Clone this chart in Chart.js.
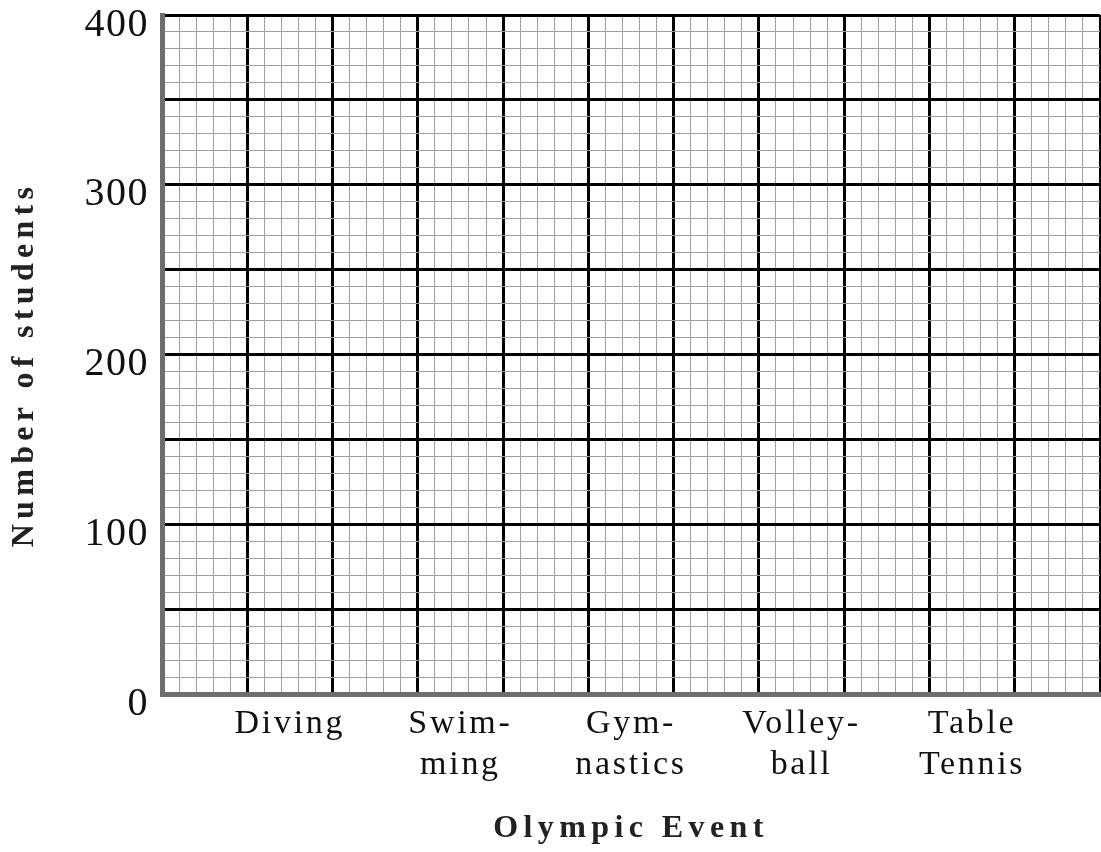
<!DOCTYPE html>
<html>
<head>
<meta charset="utf-8">
<title>Olympic Event</title>
<script src="https://cdn.jsdelivr.net/npm/chart.js@4.4.1/dist/chart.umd.min.js"></script>
<style>
  html, body { margin: 0; padding: 0; background: #fff; }
  #wrap { width: 1101px; height: 852px; }
</style>
</head>
<body>
<div id="wrap"><canvas id="grid" width="1101" height="852"></canvas></div>
<script>
// event names, split where the printed label wraps
const categories = [['Diving'], ['Swim-', 'ming'], ['Gym-', 'nastics'], ['Volley-', 'ball'], ['Table', 'Tennis']];
const yTickLabels = [0, 100, 200, 300, 400];
// blank sheet: no counts filled in yet
const studentCounts = [];

const serif = 'Liberation Serif';

// x runs in small squares: 11 big squares of 5 each, labels sit in every other big square
const xMax = 55;
const labelPos = categories.map((c, i) => 7.5 + i * 10);

// canvas letter spacing per piece of text
const spacing = {
  x: { labels: '2.7px', title: '5.4px' },
  y: { labels: '1.5px', title: '5.3px' }
};

function withSpacing(scale, method, value, shiftY) {
  const orig = scale[method];
  scale[method] = function (...args) {
    const c = this.ctx;
    const prev = c.letterSpacing;
    c.save();
    c.translate(0, shiftY || 0);
    c.letterSpacing = value;
    orig.apply(this, args);
    c.restore();
    c.letterSpacing = prev;
  };
}

const spacingPlugin = {
  id: 'spacing',
  afterUpdate(chart) {
    for (const id of ['x', 'y']) {
      const scale = chart.scales[id];
      if (scale._spaced) continue;
      withSpacing(scale, 'drawLabels', spacing[id].labels);
      // the side title sits a little below the middle of the axis
      withSpacing(scale, 'drawTitle', spacing[id].title, id === 'y' ? 10 : 0);
      scale._spaced = true;
    }
  }
};

const ctx = document.getElementById('grid').getContext('2d');
new Chart(ctx, {
  type: 'scatter',
  data: {
    datasets: [{
      label: 'Number of students',
      data: studentCounts.map((v, i) => ({ x: labelPos[i], y: v })),
      backgroundColor: '#000'
    }]
  },
  options: {
    responsive: false,
    animation: false,
    layout: { padding: { top: 15, right: 1, left: 0, bottom: 0 } },
    plugins: { legend: { display: false }, tooltip: { enabled: false } },
    scales: {
      x: {
        type: 'linear',
        min: 0,
        max: xMax,
        afterBuildTicks(scale) {
          const extra = labelPos.map(v => ({ value: v }));
          scale.ticks = scale.ticks.concat(extra).sort((a, b) => a.value - b.value);
        },
        afterFit(scale) {
          scale.height = 852 - 694;
          scale.paddingLeft = 0;
          scale.paddingRight = 0;
        },
        ticks: {
          stepSize: 1,
          autoSkip: false,
          maxRotation: 0,
          minRotation: 0,
          padding: 10,
          color: '#111',
          font: { family: serif, size: 34, lineHeight: 1.2 },
          callback(value) {
            const i = labelPos.indexOf(value);
            return i >= 0 ? categories[i] : '';
          }
        },
        grid: {
          drawTicks: false,
          color(c) {
            const v = c.tick.value;
            if (v % 1 !== 0) return 'rgba(0,0,0,0)';
            return v % 5 === 0 ? '#000' : '#a0a0a0';
          },
          lineWidth(c) {
            return c.tick.value % 5 === 0 ? 3 : 1;
          }
        },
        border: { display: true, color: '#6e6e6e', width: 5 },
        title: {
          display: true,
          text: 'Olympic Event',
          color: '#222',
          font: { family: serif, size: 32, weight: 'bold' },
          padding: { top: 0, bottom: 4 }
        }
      },
      y: {
        min: 0,
        max: 400,
        afterFit(scale) {
          scale.width = 162;
          scale.paddingTop = 0;
          scale.paddingBottom = 0;
        },
        ticks: {
          stepSize: 10,
          autoSkip: false,
          padding: 13,
          labelOffset: 10,
          color: '#111',
          font: { family: serif, size: 40 },
          callback(value) {
            return yTickLabels.includes(value) ? String(value) : '';
          }
        },
        grid: {
          drawTicks: false,
          color(c) {
            return c.tick.value % 50 === 0 ? '#000' : '#a0a0a0';
          },
          lineWidth(c) {
            return c.tick.value % 50 === 0 ? 3 : 1;
          }
        },
        border: { display: true, color: '#6e6e6e', width: 5 },
        title: {
          display: true,
          text: 'Number of students',
          color: '#222',
          font: { family: serif, size: 32, weight: 'bold' },
          padding: { top: 6, bottom: 0 }
        }
      }
    }
  },
  plugins: [spacingPlugin]
});
</script>
</body>
</html>
